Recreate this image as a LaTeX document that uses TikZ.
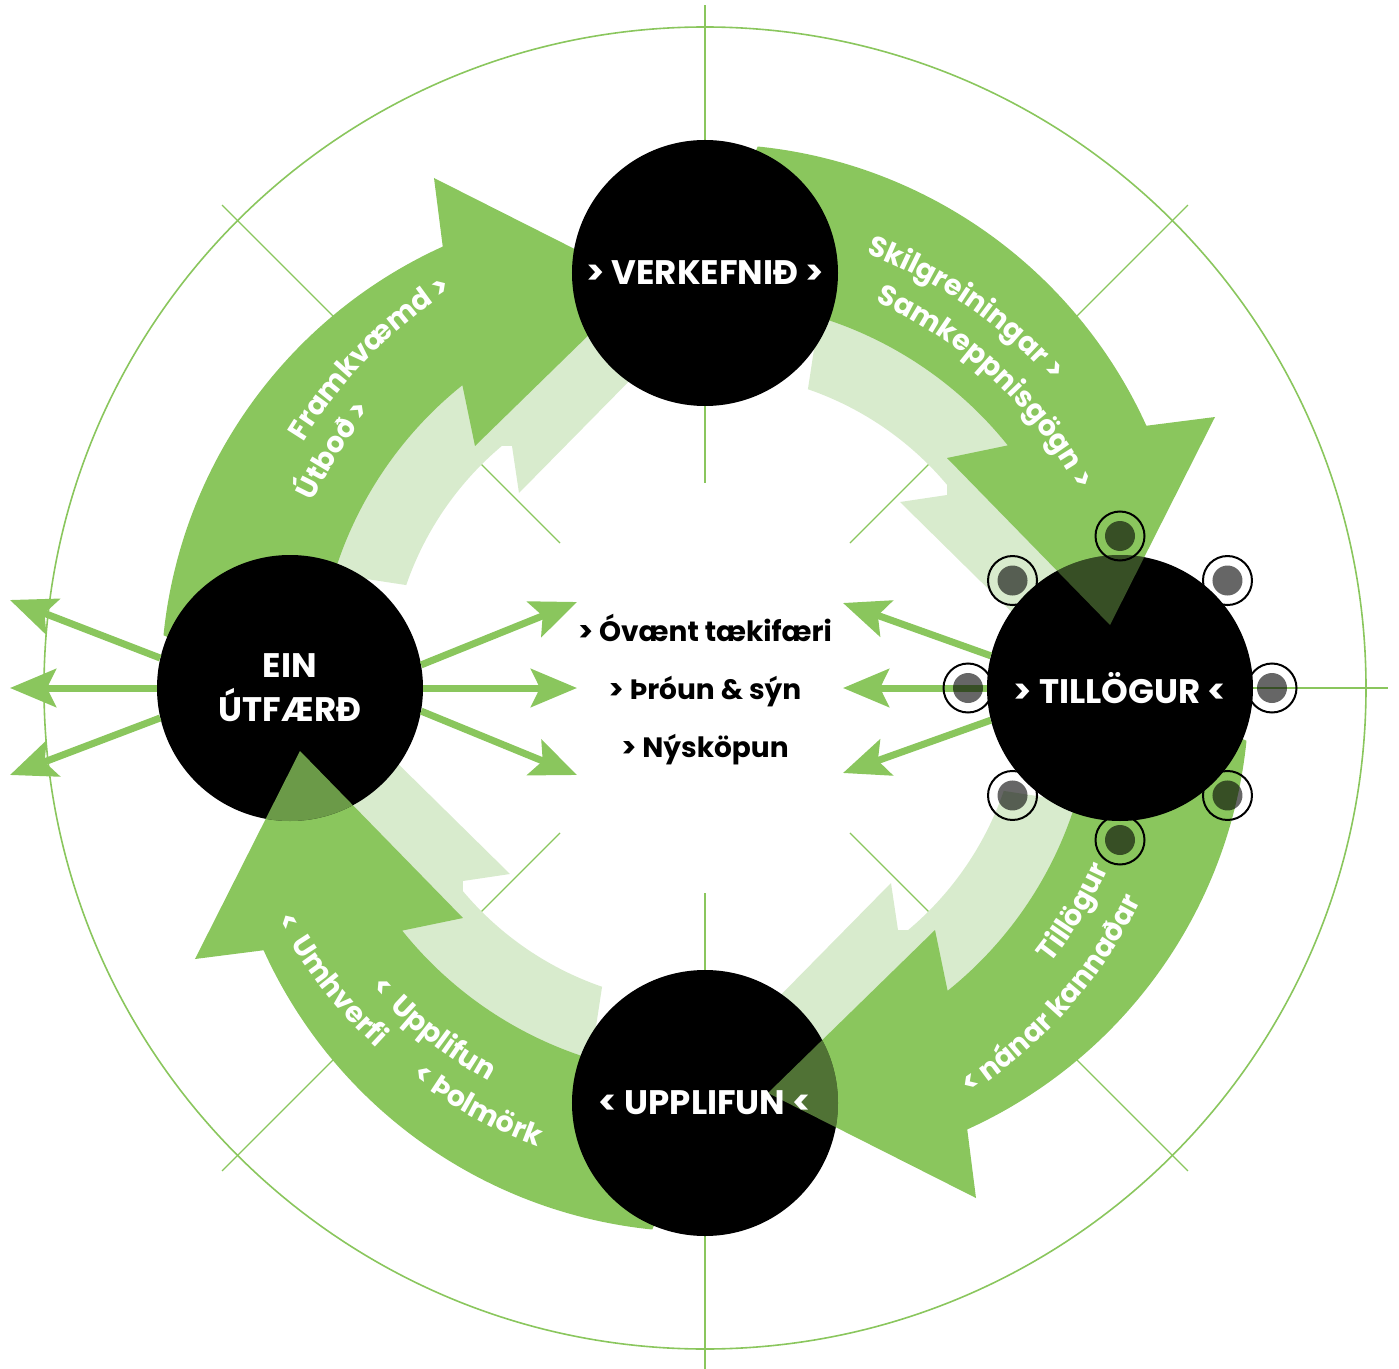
\documentclass[tikz,border=0pt]{standalone}
\usepackage{fontspec}
\setmainfont{Poppins}
\usetikzlibrary{arrows.meta,decorations.text}

\definecolor{leaf}{RGB}{138,198,93}
\definecolor{paleleaf}{RGB}{216,235,205}

% one quarter of the cycle, drawn from the top hub to the right hub
\newcommand\bigarrow{(20,470) -- (52.8,541.5) arc[start angle=84.2, end angle=24.4, radius=480] -- (510,271) -- (405,63) -- (242,230) -- (302.8,242.6) arc[start angle=38.7, end angle=72, radius=388] -- (40,380) -- cycle}
\newcommand\palearrow{(60,385) -- (130,378) -- (215,345) -- (300,258) -- (395,128) -- (385,48) -- (325,58) -- (195,186) -- (242,193) -- (242.1,203.1) arc[start angle=40, end angle=71, radius=316] -- (110,345) -- cycle}
\newcommand\arcfont{\bfseries\fontsize{28.5}{30}\selectfont}

\begin{document}
\begin{tikzpicture}[x=1pt,y=1pt,
  hub/.style={circle, fill=black, minimum size=266pt, inner sep=0pt},
  hubname/.style={text=white, align=center, font=\bfseries\fontsize{34}{44}\selectfont},
  ray/.style={draw=leaf, line width=7pt, -{Stealth[length=46pt,width=38pt,inset=9pt]}},
  chair/.style={circle, draw=black, line width=2pt, minimum size=49pt, inner sep=0pt},
  cushion/.style={circle, fill=black, fill opacity=.6, minimum size=30pt, inner sep=0pt},
  guide/.style={leaf, line width=1.2pt},
  arcnote/.style={decorate, decoration={text along path, text={|\arcfont|#1}, text align=center, text color=white}}]

\useasboundingbox (-705,-680) rectangle (694,688);

% guide lines
\foreach \a in {0,45,...,315}
  \draw[guide] (\a:205) -- (\a:683);
\draw[guide, line width=1.6pt] (0,0) circle[radius=661];

% the four big arrows
\foreach \r in {0,-90,180,90}
  \fill[paleleaf, rotate=\r] \palearrow;
\foreach \r in {0,-90,180,90}
  \fill[leaf, rotate=\r] \bigarrow;

% hubs
\node[hub] (verk) at (0,415) {};
\node[hub] (till) at (415,0) {};
\node[hub] (upp) at (0,-415) {};
\node[hub] (ein) at (-415,0) {};

% arrow heads seen through the hubs
\begin{scope}
  \clip (till.center) circle[radius=133];
  \fill[leaf, fill opacity=.4] \bigarrow;
\end{scope}
\begin{scope}
  \clip (upp.center) circle[radius=133];
  \fill[leaf, fill opacity=.58, rotate=-90] \bigarrow;
\end{scope}
\begin{scope}
  \clip (ein.center) circle[radius=133];
  \fill[leaf, fill opacity=.78, rotate=180] \bigarrow;
\end{scope}

\node[hubname] (verkname) at (verk) {> VERKEFNIÐ >};
\node[hubname] (tillname) at (till) {> TILLÖGUR <};
\node[hubname] (uppname) at (upp) {< UPPLIFUN <};
\node[hubname] (einname) at (ein) {EIN\\ÚTFÆRÐ};

% rays
\coordinate (er1) at (-128,86);
\coordinate (er2) at (-128,0);
\coordinate (er3) at (-128,-87);
\coordinate (el1) at (-695,88);
\coordinate (el2) at (-695,0);
\coordinate (el3) at (-695,-87);
\coordinate (tl1) at (138,85);
\coordinate (tl2) at (138,0);
\coordinate (tl3) at (138,-85);
\draw[ray] (ein.10) -- (er1);
\draw[ray] (ein.east) -- (er2);
\draw[ray] (ein.-10) -- (er3);
\draw[ray] (ein.167) -- (el1);
\draw[ray] (ein.west) -- (el2);
\draw[ray] (ein.193) -- (el3);
\draw[ray] (till.166) -- (tl1);
\draw[ray] (till.west) -- (tl2);
\draw[ray] (till.194) -- (tl3);

% seats round the table
\foreach \a in {0,45,...,315} {
  \node[chair] (ch\a) at ([shift={(\a:152)}]till.center) {};
  \node[cushion] (cu\a) at (ch\a) {};
}

% words along the arrows
\path[arcnote={Skilgreiningar >}] (90.5:463) arc[start angle=90.5, end angle=20.5, radius=463];
\path[arcnote={Samkeppnisgögn >}] (82:422) arc[start angle=82, end angle=12, radius=422];
\path[arcnote={Framkvæmd >}] (170.5:471) arc[start angle=170.5, end angle=100.5, radius=471];
\path[arcnote={Útboð >}] (182.4:434) arc[start angle=182.4, end angle=112.4, radius=434];
\path[arcnote={Tillögur}] (-66.3:442) arc[start angle=-66.3, end angle=3.7, radius=442];
\path[arcnote={< nánar kannaðar}] (-76.5:485) arc[start angle=-76.5, end angle=-6.5, radius=485];
\path[arcnote={< {\kern6pt}Umhverfi}] (-177:487) arc[start angle=-177, end angle=-107, radius=487];
\path[arcnote={< {\kern6pt}Upplifun}] (-163.5:449) arc[start angle=-163.5, end angle=-93.5, radius=449];
\path[arcnote={< Þolmörk}] (-153.5:488) arc[start angle=-153.5, end angle=-83.5, radius=488];

% middle
\node[font=\bfseries\fontsize{28}{58}\selectfont, align=center] (ideas) at (0,-2) {> Óvænt tækifæri\\> Þróun \& sýn\\> Nýsköpun};
\end{tikzpicture}
\end{document}
